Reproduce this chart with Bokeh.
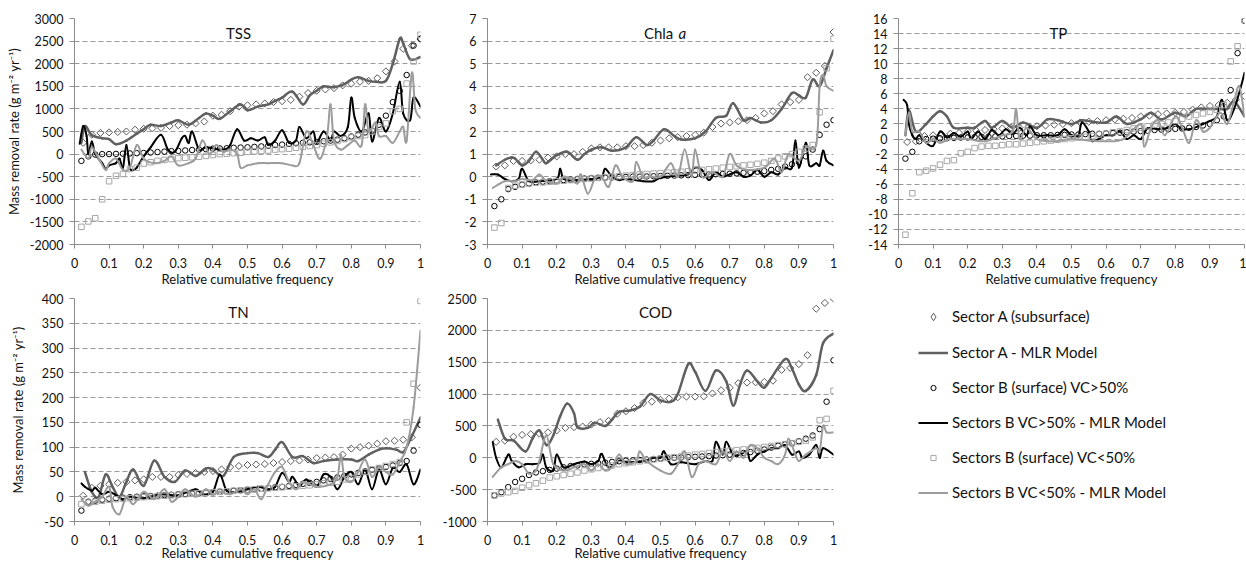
import numpy as np
from bokeh.plotting import figure
from bokeh.layouts import gridplot
from bokeh.models import Range1d, Label, Legend, LegendItem, FixedTicker, NumeralTickFormatter
from bokeh.embed import file_html
from bokeh.resources import INLINE

FONT = "Lato"
X_TICKS = [0, 0.1, 0.2, 0.3, 0.4, 0.5, 0.6, 0.7, 0.8, 0.9, 1.0]
LEGEND_LABELS = ["Sector A (subsurface)", "Sector A - MLR Model", "Sector B (surface) VC>50%",
                 "Sectors B VC>50% - MLR Model", "Sectors B (surface) VC<50%", "Sectors B VC<50% - MLR Model"]

# ---------------- TSS ----------------
TSS_A = [250,430,470,480,490,500,540,560,570,580,620,640,650,680,720,850,870,950,1050,1080,
         1100,1120,1150,1170,1200,1270,1350,1400,1430,1460,1520,1560,1600,1620,1680,1830,2050,2330,2400,2550]
TSS_A_LINE = [(0.02,250),(0.03,620),(0.05,420),(0.08,350),(0.1,330),(0.12,220),(0.15,300),(0.18,450),(0.2,550),(0.22,650),
              (0.25,620),(0.28,700),(0.3,750),(0.33,650),(0.36,800),(0.38,900),(0.4,850),(0.42,780),(0.45,950),(0.48,1100),
              (0.5,970),(0.53,1050),(0.56,1100),(0.58,1180),(0.6,1250),(0.63,1380),(0.66,1100),(0.68,1300),(0.7,1400),(0.72,1500),
              (0.75,1480),(0.78,1550),(0.8,1650),(0.82,1700),(0.85,1620),(0.87,1600),(0.9,1620),(0.92,2000),(0.94,2550),(0.95,2450),
              (0.97,2100),(1.0,2150)]
TSS_BH = [-150,-50,-10,0,0,5,10,15,20,25,35,45,55,65,70,80,90,100,110,120,
          125,130,140,145,150,160,170,185,200,210,225,240,250,260,270,285,300,320,350,390,
          430,480,520,650,850,1150,1400,1750,2400,2550]
TSS_BH_LINE = [(0.015,230),(0.025,620),(0.035,400),(0.04,0),(0.05,280),(0.06,0),(0.08,-200),(0.09,-330),(0.1,-250),(0.12,-200),
               (0.13,-100),(0.14,-300),(0.15,200),(0.16,-300),(0.17,-350),(0.18,-300),(0.2,-50),(0.22,150),(0.25,430),(0.27,100),
               (0.29,50),(0.31,350),(0.32,400),(0.33,250),(0.34,500),(0.36,100),(0.38,150),(0.42,100),(0.44,120),(0.45,200),
               (0.47,550),(0.49,300),(0.51,350),(0.53,300),(0.55,370),(0.56,200),(0.58,300),(0.6,530),(0.62,250),(0.64,300),
               (0.65,600),(0.67,350),(0.69,500),(0.7,250),(0.72,500),(0.74,300),(0.75,500),(0.77,400),(0.79,600),(0.8,1250),
               (0.81,800),(0.83,500),(0.85,900),(0.86,280),(0.88,800),(0.9,500),(0.92,900),(0.94,1600),(0.95,900),(0.97,750),
               (0.98,1250),(1.0,1050)]
TSS_BL = [-1610,-1490,-1420,-1000,-600,-480,-440,-330,-300,-210,-180,-150,-130,-110,-90,-80,-70,-60,-40,-20,
          0,10,20,30,50,60,70,80,100,110,120,140,160,180,200,230,260,290,330,370,
          400,420,500,600,680,950,1000,1560,2050,2640]
TSS_BL_LINE = [(0.02,100),(0.04,-100),(0.05,150),(0.07,-100),(0.09,-350),(0.1,-200),(0.12,-100),(0.14,-350),(0.16,-300),(0.18,200),
               (0.2,-100),(0.23,-200),(0.26,-150),(0.28,-50),(0.3,-250),(0.33,-200),(0.35,-100),(0.37,300),(0.39,0),(0.41,200),
               (0.43,50),(0.45,100),(0.47,0),(0.48,-300),(0.5,-250),(0.53,-200),(0.56,-200),(0.6,-200),(0.63,-250),(0.65,-200),
               (0.67,500),(0.69,200),(0.71,-100),(0.73,400),(0.74,1100),(0.75,300),(0.77,100),(0.79,200),(0.81,300),(0.83,200),
               (0.84,1100),(0.85,500),(0.87,700),(0.88,400),(0.9,400),(0.92,250),(0.94,500),(0.95,600),(0.96,300),(0.975,1800),
               (0.985,1000),(1.0,800)]

# ---------------- Chla a ----------------
CHLA_A = [0.45,0.5,0.7,0.7,0.72,0.75,0.85,0.9,1.0,1.0,1.1,1.25,1.3,1.3,1.3,1.35,1.35,1.4,1.5,1.6,
          1.7,1.75,1.8,1.85,1.95,2.2,2.35,2.4,2.45,2.5,2.6,2.8,2.9,3.2,3.3,3.4,4.4,4.6,4.9,6.4]
CHLA_A_LINE = [(0.025,0.5),(0.05,0.75),(0.07,0.85),(0.08,0.8),(0.1,0.5),(0.12,0.7),(0.14,1.1),(0.16,0.75),(0.17,0.6),(0.2,0.95),
               (0.23,1.1),(0.26,0.75),(0.28,1.0),(0.3,1.2),(0.33,1.3),(0.36,1.15),(0.4,1.3),(0.43,1.75),(0.46,1.4),(0.48,1.6),
               (0.51,2.1),(0.54,1.8),(0.56,1.65),(0.6,1.7),(0.63,2.0),(0.66,2.6),(0.69,2.7),(0.71,3.25),(0.74,2.5),(0.76,2.6),
               (0.79,2.4),(0.82,2.5),(0.85,3.0),(0.88,3.7),(0.9,3.6),(0.92,3.5),(0.94,4.3),(0.96,4.0),(0.98,4.8),(1.0,5.6)]
CHLA_BH = [-1.3,-1.0,-0.55,-0.45,-0.35,-0.3,-0.25,-0.22,-0.2,-0.18,-0.15,-0.13,-0.1,-0.08,-0.06,-0.05,-0.04,-0.03,-0.02,-0.01,
           0,0,0.01,0.02,0.03,0.04,0.05,0.06,0.07,0.08,0.09,0.1,0.11,0.12,0.13,0.15,0.17,0.2,0.22,0.25,
           0.3,0.35,0.45,0.55,0.65,0.9,1.2,1.85,2.3,2.5]
CHLA_BH_LINE = [(0.01,0.1),(0.03,0.1),(0.05,-0.1),(0.07,-0.2),(0.09,-0.1),(0.1,0.35),(0.12,-0.2),(0.15,-0.2),(0.2,-0.1),(0.21,0.35),
                (0.22,-0.1),(0.25,-0.15),(0.3,-0.1),(0.33,0.0),(0.34,0.35),(0.36,0.0),(0.38,-0.15),(0.4,-0.1),(0.45,-0.2),(0.48,-0.2),
                (0.5,-0.05),(0.55,0.05),(0.58,0.1),(0.6,0.4),(0.62,0.3),(0.64,-0.15),(0.66,0.2),(0.68,0.0),(0.7,0.1),(0.72,0.2),
                (0.74,0.0),(0.76,0.05),(0.78,0.3),(0.8,0.0),(0.82,0.2),(0.84,0.1),(0.86,0.4),(0.88,0.4),(0.89,1.6),(0.9,0.4),
                (0.92,1.5),(0.93,0.5),(0.95,0.6),(0.96,0.5),(0.97,1.15),(0.98,0.7),(1.0,0.5)]
CHLA_BL = [-2.25,-2.05,-0.5,-0.4,-0.35,-0.3,-0.27,-0.25,-0.22,-0.2,-0.18,-0.15,-0.13,-0.1,-0.08,-0.05,-0.03,0,0.02,0.05,
           0.07,0.1,0.12,0.14,0.16,0.18,0.2,0.22,0.24,0.27,0.3,0.33,0.36,0.4,0.43,0.46,0.5,0.53,0.57,0.62,
           0.7,0.8,0.9,1.0,1.1,1.25,1.4,2.85,4.8,6.1]
CHLA_BL_LINE = [(0.015,-0.5),(0.05,-0.2),(0.08,-0.2),(0.1,-0.1),(0.13,-0.15),(0.15,0.1),(0.17,-0.2),(0.2,-0.3),(0.22,0.0),(0.24,-0.1),
                (0.26,-0.3),(0.27,0.1),(0.29,-0.75),(0.31,-0.1),(0.33,0.0),(0.35,-0.45),(0.37,0.5),(0.39,0.0),(0.42,-0.2),(0.43,0.65),
                (0.45,-0.05),(0.47,0.0),(0.5,0.0),(0.53,0.6),(0.55,0.0),(0.57,1.2),(0.59,0.0),(0.6,1.2),(0.62,0.0),(0.65,0.2),
                (0.68,0.0),(0.7,1.0),(0.72,0.5),(0.75,0.3),(0.8,0.4),(0.83,0.8),(0.85,0.2),(0.87,1.0),(0.9,0.7),(0.92,1.3),
                (0.95,1.4),(0.96,4.0),(0.97,4.5),(0.98,4.0),(1.0,3.8)]

# ---------------- TP ----------------
TP_A = [-0.4,-0.3,0.4,0.5,0.6,0.7,0.8,1.0,1.1,1.2,1.3,1.4,1.5,1.5,1.6,1.7,1.8,1.9,2.0,2.1,
        2.2,2.3,2.4,2.5,2.6,2.7,2.8,3.0,3.1,3.3,3.4,3.5,3.6,3.9,4.2,4.4,4.5,4.8,5.2,5.7]
TP_A_LINE = [(0.02,0.5),(0.03,3.8),(0.05,1.0),(0.08,2.0),(0.1,3.0),(0.12,3.7),(0.14,3.0),(0.16,1.5),(0.2,1.5),(0.22,1.5),
             (0.25,2.4),(0.27,1.5),(0.3,2.4),(0.33,1.5),(0.36,2.2),(0.4,1.5),(0.43,2.6),(0.46,2.5),(0.5,2.0),(0.53,2.5),
             (0.56,2.3),(0.6,2.2),(0.63,3.0),(0.66,2.0),(0.7,2.6),(0.73,3.5),(0.76,2.6),(0.8,3.5),(0.83,3.0),(0.86,4.0),
             (0.9,4.0),(0.93,4.0),(0.95,4.0),(0.97,5.0),(1.0,3.0)]
TP_BH = [-2.6,-1.7,-0.3,0.0,0.05,0.1,0.1,0.15,0.2,0.2,0.25,0.3,0.3,0.35,0.35,0.4,0.4,0.45,0.45,0.5,
         0.5,0.5,0.55,0.55,0.6,0.6,0.65,0.7,0.7,0.75,0.8,0.85,0.9,1.0,1.05,1.1,1.2,1.25,1.3,1.35,
         1.4,1.5,1.6,1.8,2.0,2.5,3.0,6.5,11.4,15.7]
TP_BH_LINE = [(0.015,5.2),(0.025,4.5),(0.03,2.0),(0.04,0.5),(0.05,0.0),(0.06,0.5),(0.08,-0.5),(0.1,-0.9),(0.12,1.0),(0.14,0.2),
              (0.16,0.8),(0.18,0.3),(0.2,1.0),(0.21,0.0),(0.23,1.0),(0.25,0.0),(0.27,1.2),(0.29,0.5),(0.31,1.3),(0.33,0.7),
              (0.35,1.5),(0.37,0.5),(0.38,1.7),(0.4,0.5),(0.43,0.5),(0.46,0.5),(0.48,1.3),(0.5,0.5),(0.52,0.5),(0.53,2.2),
              (0.55,1.0),(0.56,-0.3),(0.6,0.5),(0.62,0.5),(0.64,1.0),(0.66,0.0),(0.68,0.5),(0.7,0.0),(0.72,1.4),(0.75,1.3),
              (0.78,1.5),(0.8,2.0),(0.82,1.3),(0.85,1.4),(0.88,2.0),(0.9,2.4),(0.92,3.0),(0.935,5.2),(0.95,2.5),(0.97,4.0),
              (0.99,7.0),(1.0,8.8)]
TP_BL = [-12.7,-7.2,-4.4,-4.2,-3.9,-3.4,-2.9,-2.8,-1.9,-1.7,-1.2,-1.0,-0.9,-0.9,-0.8,-0.7,-0.7,-0.6,-0.5,-0.4,
         -0.3,-0.2,-0.1,0.0,0.1,0.2,0.3,0.4,0.6,0.7,0.9,1.0,1.2,1.4,1.5,1.7,1.9,2.0,2.2,2.4,
         2.7,3.0,3.2,3.4,3.6,3.9,4.5,10.3,12.3,15.8]
TP_BL_LINE = [(0.02,0.5),(0.03,3.5),(0.04,1.0),(0.06,1.0),(0.08,-0.5),(0.1,0.0),(0.12,-0.5),(0.15,0.0),(0.2,0.0),(0.25,-0.3),
              (0.3,0.5),(0.33,1.0),(0.34,4.0),(0.35,0.0),(0.37,1.5),(0.4,0.0),(0.45,-0.3),(0.5,0.0),(0.55,-0.2),(0.6,-0.3),
              (0.65,0.0),(0.7,2.0),(0.71,-1.0),(0.73,1.5),(0.75,2.5),(0.77,0.5),(0.8,3.0),(0.82,1.5),(0.84,-0.5),(0.86,2.5),
              (0.88,1.0),(0.9,1.5),(0.93,3.5),(0.95,2.0),(0.97,5.0),(0.985,7.0),(1.0,3.0)]

# ---------------- TN ----------------
TN_A = [2,18,22,25,28,30,33,35,40,40,40,44,46,48,50,52,55,60,62,64,
        65,66,68,70,72,73,75,78,79,80,85,97,100,103,107,112,113,115,120,220]
TN_A_LINE = [(0.03,50),(0.05,10),(0.07,0),(0.09,45),(0.11,20),(0.13,0),(0.15,30),(0.17,55),(0.2,22),(0.23,73),
             (0.26,40),(0.29,30),(0.32,53),(0.35,42),(0.38,57),(0.4,55),(0.43,42),(0.46,80),(0.5,88),(0.53,88),
             (0.56,80),(0.58,95),(0.6,110),(0.63,80),(0.66,82),(0.69,68),(0.72,72),(0.76,75),(0.8,75),(0.82,72),
             (0.85,85),(0.88,95),(0.9,98),(0.93,95),(0.95,90),(0.97,115),(1.0,160)]
TN_BH = [-28,-10,-8,-6,-4,-3,-2,-1,0,1,1.5,2,3,4,5,5.5,6,7,8,9,
         10,11,12,13,14,15,16,18,19,20,22,24,26,28,30,33,36,39,42,45,
         48,51,54,57,60,63,68,72,93,145]
TN_BH_LINE = [(0.02,27),(0.03,20),(0.05,12),(0.06,18),(0.08,5),(0.1,10),(0.12,3),(0.14,-5),(0.16,0),(0.2,-3),
              (0.25,5),(0.3,3),(0.35,15),(0.37,5),(0.4,10),(0.42,45),(0.44,12),(0.47,10),(0.5,15),(0.53,20),
              (0.56,15),(0.58,20),(0.6,48),(0.62,30),(0.63,40),(0.65,22),(0.67,35),(0.7,20),(0.72,45),(0.74,40),
              (0.76,15),(0.78,40),(0.8,50),(0.82,25),(0.84,55),(0.86,15),(0.88,55),(0.9,25),(0.92,58),(0.94,50),
              (0.96,65),(0.98,25),(1.0,55)]
TN_BL = [-15,-12,-10,-8,-6,-5,-4,-3,-2,-1,0,1,2,3,4,5,6,7,8,9,
         10,11,12,13,14,15,16,17,18,19,20,21,22,23,25,27,28,30,35,38,
         45,50,55,58,62,66,70,150,228,395]
TN_BL_LINE = [(0.02,-5),(0.04,-18),(0.06,-10),(0.08,0),(0.1,20),(0.11,-20),(0.13,-35),(0.15,0),(0.17,-15),(0.2,10),
              (0.23,-5),(0.26,15),(0.28,-10),(0.3,0),(0.32,15),(0.35,0),(0.38,15),(0.4,5),(0.42,10),(0.45,5),
              (0.48,15),(0.5,5),(0.52,15),(0.54,-5),(0.56,25),(0.58,50),(0.6,60),(0.62,30),(0.64,15),(0.66,30),
              (0.7,20),(0.74,25),(0.76,40),(0.77,85),(0.78,40),(0.8,30),(0.82,50),(0.84,75),(0.86,40),(0.88,60),
              (0.9,50),(0.92,45),(0.94,70),(0.96,100),(0.98,180),(1.0,335)]

# ---------------- COD ----------------
COD_A = [250,270,330,360,370,380,400,430,470,480,490,520,560,580,690,730,780,860,880,910,
         930,950,960,960,965,1010,1060,1100,1170,1180,1185,1190,1210,1380,1410,1470,1610,2340,2430,2500]
COD_A_LINE = [(0.03,600),(0.05,300),(0.07,280),(0.08,250),(0.11,100),(0.13,300),(0.15,430),(0.17,200),(0.19,350),(0.21,650),
              (0.23,850),(0.25,700),(0.26,480),(0.29,470),(0.31,550),(0.34,500),(0.36,600),(0.38,720),(0.41,740),(0.44,800),
              (0.47,1000),(0.5,900),(0.53,880),(0.55,1000),(0.58,1470),(0.6,1350),(0.63,1050),(0.66,1370),(0.69,1200),(0.71,820),
              (0.73,1150),(0.75,1370),(0.78,1200),(0.8,1100),(0.82,1250),(0.86,1550),(0.88,1400),(0.9,1150),(0.92,1050),(0.95,1300),
              (0.97,1800),(1.0,1950)]
COD_BH = [-590,-540,-460,-380,-330,-270,-230,-210,-190,-170,-150,-130,-120,-105,-95,-85,-75,-65,-55,-45,
          -40,-35,-28,-20,-12,-5,0,5,10,15,20,25,35,40,50,60,75,90,110,130,
          160,190,210,230,260,300,350,450,880,1530]
COD_BH_LINE = [(0.015,250),(0.025,0),(0.04,-150),(0.06,50),(0.07,-50),(0.09,-150),(0.11,-100),(0.13,-100),(0.15,-80),(0.16,50),
               (0.17,-150),(0.19,-200),(0.2,50),(0.22,-150),(0.25,-100),(0.28,-60),(0.3,-100),(0.32,-50),(0.33,60),(0.35,-150),
               (0.38,-50),(0.4,-70),(0.44,-60),(0.46,-40),(0.48,0),(0.5,0),(0.51,100),(0.53,-100),(0.56,-70),(0.6,-100),
               (0.63,-50),(0.65,-50),(0.66,250),(0.68,50),(0.69,250),(0.71,50),(0.73,50),(0.75,100),(0.76,-50),(0.78,50),
               (0.8,100),(0.82,150),(0.84,150),(0.86,200),(0.88,50),(0.9,100),(0.91,0),(0.93,50),(0.95,200),(0.96,0),
               (0.97,150),(1.0,50)]
COD_BL = [-590,-560,-540,-520,-470,-430,-400,-360,-310,-290,-270,-250,-230,-200,-180,-160,-140,-120,-100,-85,
          -70,-55,-40,-25,-10,0,10,20,35,50,60,75,90,100,110,120,130,140,155,170,
          185,200,215,230,250,270,320,590,610,1050]
COD_BL_LINE = [(0.015,-300),(0.04,-150),(0.06,-100),(0.08,-50),(0.1,-100),(0.12,-250),(0.14,-200),(0.15,-50),(0.17,350),(0.19,-100),
               (0.22,-200),(0.25,-150),(0.28,-100),(0.3,-200),(0.32,-100),(0.34,-200),(0.36,-150),(0.38,50),(0.4,-100),(0.43,-50),
               (0.44,100),(0.46,-50),(0.5,-200),(0.53,-250),(0.55,-100),(0.57,100),(0.59,-300),(0.61,-100),(0.63,-50),(0.66,-100),
               (0.68,100),(0.7,-50),(0.72,100),(0.74,0),(0.76,200),(0.78,150),(0.8,0),(0.82,-50),(0.84,-100),(0.86,50),
               (0.87,300),(0.89,50),(0.9,-50),(0.92,50),(0.95,150),(0.96,100),(0.97,500),(0.98,400),(1.0,400)]

# ---------------- styling ----------------
A_MARK = "#5a5a5a"; A_LINE = "#606060"
BH_COL = "#000000"
BL_MARK = "#a6a6a6"; BL_LINE = "#9c9c9c"
AXIS_COL = "#8c8c8c"; GRID_COL = "#9a9a9a"; TEXT_COL = "#111111"


def cumfreq(vals):
    n = len(vals)
    return [(i + 1) / n for i in range(n)]


def smooth_line(p, pairs, color, width):
    """Excel-style smoothed line: each segment drawn as a cubic Bezier through the data points."""
    pts = np.array(pairs, dtype=float)
    n = len(pts)
    x0, y0, x1, y1, cx0, cy0, cx1, cy1 = ([] for _ in range(8))
    for i in range(n - 1):
        pa = pts[i - 1] if i > 0 else pts[i]
        pb = pts[i]
        pc = pts[i + 1]
        pd = pts[i + 2] if i + 2 < n else pts[i + 1]
        c1 = pb + (pc - pa) / 6.0
        c2 = pc - (pd - pb) / 6.0
        x0.append(pb[0]); y0.append(pb[1]); x1.append(pc[0]); y1.append(pc[1])
        cx0.append(c1[0]); cy0.append(c1[1]); cx1.append(c2[0]); cy1.append(c2[1])
    p.bezier(x0=x0, y0=y0, x1=x1, y1=y1, cx0=cx0, cy0=cy0, cx1=cx1, cy1=cy1,
             line_color=color, line_width=width, line_cap="round")


def make_panel(ymin, ymax, ystep, a, a_line, bh, bh_line, bl, bl_line,
               w, h, bl_, br_, bt_, bb_, xlabel_standoff, ylabel=None, ylabel_standoff=10):
    p = figure(width=w, height=h, x_range=Range1d(0, 1), y_range=Range1d(ymin, ymax),
               output_backend="svg", toolbar_location=None,
               min_border_left=bl_, min_border_right=br_, min_border_top=bt_, min_border_bottom=bb_)
    p.outline_line_color = None
    p.background_fill_color = None
    p.border_fill_color = None
    yt = [float(round(v, 6)) for v in np.arange(ymin, ymax + ystep * 0.5, ystep)]
    p.yaxis.ticker = FixedTicker(ticks=yt)
    p.ygrid.ticker = FixedTicker(ticks=yt[1:])
    p.xaxis.ticker = FixedTicker(ticks=X_TICKS)
    p.xgrid.visible = False
    p.ygrid.grid_line_color = GRID_COL
    p.ygrid.grid_line_dash = "5 3"
    p.ygrid.grid_line_width = 1
    p.xaxis.formatter = NumeralTickFormatter(format="0.[0]")
    p.yaxis.formatter = NumeralTickFormatter(format="0")
    for ax in (p.xaxis, p.yaxis):
        ax.axis_line_color = AXIS_COL
        ax.major_tick_line_color = AXIS_COL
        ax.minor_tick_line_color = None
        ax.major_tick_in = 0
        ax.major_label_text_font = FONT
        ax.major_label_text_font_size = "12.5px"
        ax.major_label_text_color = TEXT_COL
        ax.axis_label_text_font = FONT
        ax.axis_label_text_font_size = "13px"
        ax.axis_label_text_font_style = "normal"
        ax.axis_label_text_color = TEXT_COL
    p.xaxis.major_tick_out = 4
    p.yaxis.major_tick_out = 5
    p.xaxis.major_label_standoff = 9
    p.yaxis.major_label_standoff = 6
    p.xaxis.axis_label = "Relative cumulative frequency"
    p.xaxis.axis_label_standoff = xlabel_standoff
    if ylabel:
        p.yaxis.axis_label = ylabel
        p.yaxis.axis_label_standoff = ylabel_standoff

    # series (Excel order: later ones on top)
    p.scatter(cumfreq(a), a, marker="square", angle=np.pi / 4, size=5,
              line_color=A_MARK, fill_alpha=0, line_width=1)
    smooth_line(p, a_line, A_LINE, 2.5)
    p.scatter(cumfreq(bh), bh, marker="circle", size=5.5,
              line_color=BH_COL, fill_alpha=0, line_width=1)
    smooth_line(p, bh_line, BH_COL, 2)
    p.scatter(cumfreq(bl), bl, marker="square", size=5.5,
              line_color=BL_MARK, fill_alpha=0, line_width=1)
    smooth_line(p, bl_line, BL_LINE, 2)
    return p


def add_title(p, ymin, ymax, x, text, align="center", style="normal"):
    y = ymax - 0.062 * (ymax - ymin)
    p.add_layout(Label(x=x, y=y, text=text, text_font=FONT, text_font_size="15px",
                       text_font_style=style, text_color=TEXT_COL,
                       text_align=align, text_baseline="middle"))


YLAB = "Mass removal rate (g m\u207b\u00b2 yr\u207b\u00b9)"

# row 1: top 18 + frame 226 + bottom 45 ; row 2: top 9 + frame 224 + bottom 41
f1 = make_panel(-2000, 3000, 500, TSS_A, TSS_A_LINE, TSS_BH, TSS_BH_LINE, TSS_BL, TSS_BL_LINE,
                428, 289, 74, 8, 18, 45, 0, ylabel=YLAB, ylabel_standoff=5)
add_title(f1, -2000, 3000, 0.474, "TSS")

f2 = make_panel(-3, 7, 1, CHLA_A, CHLA_A_LINE, CHLA_BH, CHLA_BH_LINE, CHLA_BL, CHLA_BL_LINE,
                410, 289, 59, 5, 18, 45, 0)
add_title(f2, -3, 7, 0.537, "Chla", align="right")
add_title(f2, -3, 7, 0.552, "a", align="left", style="italic")

f3 = make_panel(-14, 16, 2, TP_A, TP_A_LINE, TP_BH, TP_BH_LINE, TP_BL, TP_BL_LINE,
                408, 289, 60, 2, 18, 45, 0)
add_title(f3, -14, 16, 0.462, "TP")

f4 = make_panel(-50, 400, 50, TN_A, TN_A_LINE, TN_BH, TN_BH_LINE, TN_BL, TN_BL_LINE,
                428, 274, 74, 8, 9, 41, -3, ylabel=YLAB, ylabel_standoff=13)
add_title(f4, -50, 400, 0.474, "TN")

f5 = make_panel(-1000, 2500, 500, COD_A, COD_A_LINE, COD_BH, COD_BH_LINE, COD_BL, COD_BL_LINE,
                410, 274, 59, 5, 9, 41, -3)
add_title(f5, -1000, 2500, 0.486, "COD")

# legend panel (its frame is aligned by the grid with the TP column / bottom row)
lg = figure(width=408, height=274, x_range=Range1d(0, 1), y_range=Range1d(0, 1),
            output_backend="svg", toolbar_location=None,
            x_axis_location=None, y_axis_location=None,
            min_border_left=0, min_border_right=0, min_border_top=0, min_border_bottom=0)
lg.outline_line_color = None
lg.grid.visible = False
lg.background_fill_color = None
lg.border_fill_color = None
NAN = [float("nan")]
r1 = lg.scatter(NAN, NAN, marker="diamond", line_color=A_MARK, fill_alpha=0, line_width=1)
r2 = lg.line(NAN, NAN, line_color=A_LINE, line_width=2.5)
r3 = lg.scatter(NAN, NAN, marker="circle", line_color=BH_COL, fill_alpha=0, line_width=1)
r4 = lg.line(NAN, NAN, line_color=BH_COL, line_width=2)
r5 = lg.scatter(NAN, NAN, marker="square", line_color=BL_MARK, fill_alpha=0, line_width=1)
r6 = lg.line(NAN, NAN, line_color=BL_LINE, line_width=2)
common = dict(glyph_width=30, label_height=20, label_standoff=4, spacing=15, padding=0, margin=0,
              border_line_color=None, background_fill_alpha=0, label_text_font=FONT,
              label_text_font_size="15px", label_text_color=TEXT_COL)
legend_top = Legend(items=[LegendItem(label=LEGEND_LABELS[0], renderers=[r1])],
                    location=(20, 195), glyph_height=19, **common)
legend_rest = Legend(items=[LegendItem(label=t, renderers=[r]) for t, r in
                            zip(LEGEND_LABELS[1:], [r2, r3, r4, r5, r6])],
                     location=(20, 19), glyph_height=13, **common)
lg.add_layout(legend_top)
lg.add_layout(legend_rest)

grid = gridplot([[f1, f2, f3], [f4, f5, lg]], toolbar_location=None)

open("out.html", "w").write(file_html(grid, INLINE))
